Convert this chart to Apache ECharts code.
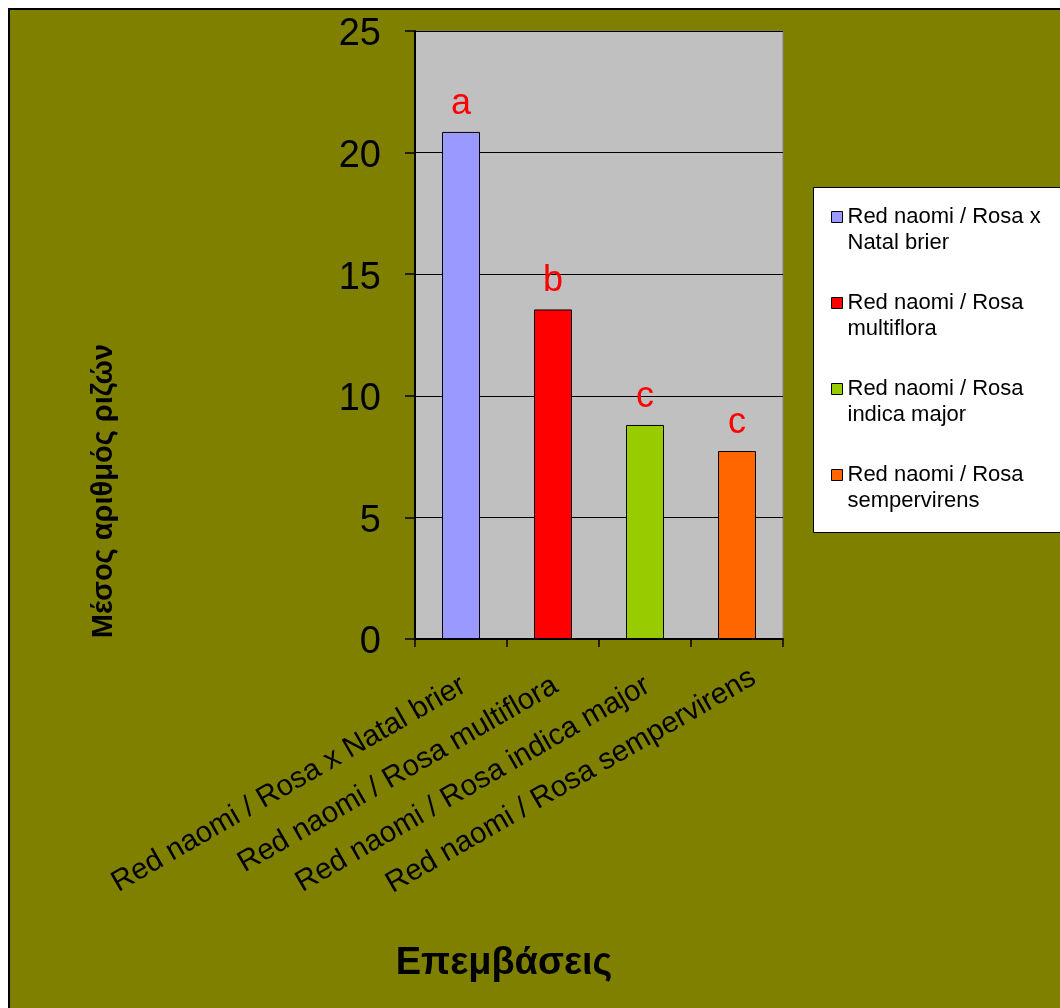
<!DOCTYPE html>
<html>
<head>
<meta charset="utf-8">
<script src="https://cdn.jsdelivr.net/npm/echarts@6/dist/echarts.min.js"></script>
<style>
  html, body { margin: 0; padding: 0; background: #ffffff; overflow: hidden; }
  #frame {
    position: absolute; left: 8px; top: 8px; width: 1100px; height: 1050px;
    background: #808000; border-left: 2px solid #000; border-top: 2px solid #000;
  }
  #chart { position: absolute; left: 0; top: 0; width: 1060px; height: 1008px; }
</style>
</head>
<body>
<div id="frame"></div>
<div id="chart"></div>
<script>
// Rootstock combinations (grafts) and mean number of roots
const categories = [
  'Red naomi / Rosa x Natal brier',
  'Red naomi / Rosa multiflora',
  'Red naomi / Rosa indica major',
  'Red naomi / Rosa sempervirens'
];
const meanRoots = [20.85, 13.55, 8.8, 7.73];
const significance = ['a', 'b', 'c', 'c'];
const barColors = ['#9999FF', '#FF0000', '#99CC00', '#FF6600'];
const yTicks = { min: 0, max: 25, step: 5 };
const yTitle = 'Μέσος αριθμός ριζών';
const xTitle = 'Επεμβάσεις';

const FONT = 'Arial, "Liberation Sans", sans-serif';

// one series per graft so each gets its own legend entry; bars overlap in place
const series = categories.map((name, i) => ({
  name: name,
  type: 'bar',
  barWidth: 38,
  barGap: '-100%',
  data: categories.map((c, j) => (j === i ? meanRoots[j] : '-')),
  itemStyle: { color: barColors[i], borderColor: '#000', borderWidth: 1 },
  label: {
    show: true,
    position: 'top',
    distance: 10,
    color: '#FF0000',
    fontFamily: FONT,
    fontSize: 36,
    formatter: () => significance[i]
  }
}));

// category labels; the last one sits a little further along its slant
const xAxisData = categories.map((c, i) => ({
  value: c,
  textStyle: { padding: [0, i === categories.length - 1 ? -19 : -3, 0, 0] }
}));

// legend text: wrap after "Rosa" / "Rosa x"; a leading blank line keeps the
// marker level with the first text line
const legendText = (name) => '\n' + name.replace(/^(Red naomi \/ Rosa(?: x)?) /, '$1\n');

const chart = echarts.init(document.getElementById('chart'), null, { renderer: 'canvas' });
chart.setOption({
  backgroundColor: 'transparent',
  animation: false,
  grid: {
    left: 415, top: 31, width: 368, height: 608,
    show: true, backgroundColor: '#C0C0C0', borderColor: '#808080', borderWidth: 1
  },
  xAxis: {
    type: 'category',
    data: xAxisData,
    boundaryGap: true,
    axisLine: { lineStyle: { color: '#000', width: 2 } },
    axisTick: { show: true, length: 8, alignWithLabel: false, lineStyle: { color: '#000', width: 1.5 } },
    axisLabel: {
      rotate: 30, interval: 0, margin: 46,
      color: '#000', fontFamily: FONT, fontSize: 29.5
    }
  },
  yAxis: {
    type: 'value',
    min: yTicks.min, max: yTicks.max, interval: yTicks.step,
    axisLine: { show: true, lineStyle: { color: '#000', width: 2 } },
    axisTick: { show: true, length: 10, lineStyle: { color: '#000', width: 1.5 } },
    axisLabel: {
      margin: 34, color: '#000', fontFamily: FONT, fontSize: 38,
      // numbers sit slightly below their tick
      verticalAlign: 'top', lineHeight: 8
    },
    splitLine: { show: true, lineStyle: { color: '#000', width: 1 } }
  },
  legend: {
    orient: 'vertical',
    left: 831, top: 178,
    padding: 0,
    icon: 'rect',
    itemWidth: 11, itemHeight: 11,
    itemGap: 8,
    data: categories,
    formatter: legendText,
    textStyle: { color: '#000', fontFamily: FONT, fontSize: 22, lineHeight: 26 },
    itemStyle: { borderColor: '#000', borderWidth: 1 }
  },
  graphic: [
    {
      // legend box
      type: 'rect', z: -1,
      shape: { x: 813.5, y: 187.5, width: 300, height: 345 },
      style: { fill: '#ffffff', stroke: '#000', lineWidth: 1 }
    },
    {
      type: 'text',
      x: 104, y: 491, rotation: Math.PI / 2,
      style: {
        text: yTitle, fill: '#000', font: 'bold 29px ' + FONT,
        textAlign: 'center', textVerticalAlign: 'middle'
      }
    },
    {
      type: 'text',
      x: 504, y: 964,
      style: {
        text: xTitle, fill: '#000', font: 'bold 38px ' + FONT,
        textAlign: 'center', textVerticalAlign: 'middle'
      }
    }
  ],
  series: series
});
</script>
</body>
</html>
